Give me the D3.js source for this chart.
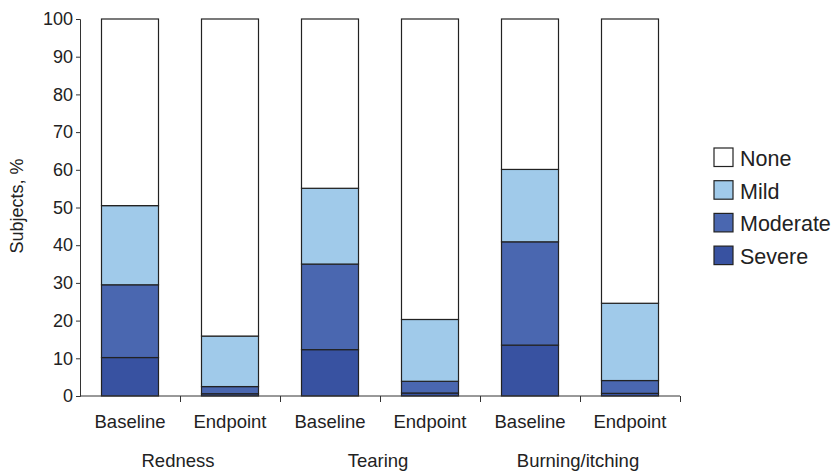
<!DOCTYPE html>
<html><head><meta charset="utf-8">
<script src="https://cdn.jsdelivr.net/npm/d3@7"></script>
<style>body{margin:0;background:#fff}svg{display:block;font-family:"Liberation Sans",Arial,sans-serif}</style>
</head><body><svg id="c" width="831" height="471"></svg>
<script>
const categories = ["Baseline","Endpoint","Baseline","Endpoint","Baseline","Endpoint"];
const groups = ["Redness","Tearing","Burning/itching"];
const severe   = [10.2, 0.6, 12.3, 0.8, 13.5, 0.7];
const moderate = [19.3, 1.9, 22.7, 3.1, 27.4, 3.4];
const mild     = [21.0, 13.4, 20.1, 16.4, 19.2, 20.5];
const none     = severe.map((d,i)=>100 - d - moderate[i] - mild[i]);
const seriesNames = ["Severe","Moderate","Mild","None"];
const seriesColors = ["#3852a1","#4a67b0","#a0caea","#ffffff"];
const yTicks = [0,10,20,30,40,50,60,70,80,90,100];

const svg = d3.select("#c");
const m = {l:80, r:151, t:19, b:75};
const W = 831 - m.l - m.r, H = 471 - m.t - m.b;
const g = svg.append("g").attr("transform",`translate(${m.l},${m.t})`);
const idx = categories.map((_,i)=>i);
const x = d3.scaleBand().domain(idx).range([0,W]).paddingInner(0.43).paddingOuter(0.215);
const y = d3.scaleLinear().domain([0,100]).range([H,0]);

const rows = idx.map(i=>({i, Severe:severe[i], Moderate:moderate[i], Mild:mild[i], None:none[i]}));
const stack = d3.stack().keys(seriesNames)(rows);
stack.forEach((s,k)=>{
  g.append("g").selectAll("rect").data(s).join("rect")
    .attr("x",d=>x(d.data.i)).attr("width",x.bandwidth())
    .attr("y",d=>y(d[1])).attr("height",d=>y(d[0])-y(d[1]))
    .attr("fill",seriesColors[k]).attr("stroke","#222").attr("stroke-width",1.2);
});

// y axis
const ya = g.append("g").call(d3.axisLeft(y).tickValues(yTicks).tickSize(4).tickPadding(3));
ya.select(".domain").attr("stroke","#333");
ya.selectAll("line").attr("stroke","#333");
ya.selectAll("text").attr("font-size",18).attr("fill","#222").attr("font-family","Liberation Sans, Arial, sans-serif");

// x axis
const xb = d3.scaleLinear().domain([0,6]).range([0,W]);
const xa = g.append("g").attr("transform",`translate(0,${H})`)
  .call(d3.axisBottom(xb).tickValues([1,2,3,4,5,6]).tickSize(6).tickFormat(""));
xa.select(".domain").attr("stroke","#333").attr("d",`M0,0H${W}`);
xa.selectAll("line").attr("stroke","#333");

g.append("g").selectAll("text").data(idx).join("text")
  .attr("x",i=>x(i)+x.bandwidth()/2).attr("y",H+32)
  .attr("text-anchor","middle").attr("font-size",18.5).attr("fill","#222")
  .text(i=>categories[i]);
g.append("g").selectAll("text").data(groups).join("text")
  .attr("x",(d,j)=>xb(2*j+1)-2).attr("y",H+71)
  .attr("text-anchor","middle").attr("font-size",18.5).attr("fill","#222")
  .text(d=>d);

svg.append("text").attr("transform","translate(23,206) rotate(-90)")
  .attr("text-anchor","middle").attr("font-size",18).attr("fill","#222").text("Subjects, %");

// legend
const legOrder = ["None","Mild","Moderate","Severe"];
const lg = svg.append("g").attr("transform","translate(714,148)");
legOrder.forEach((n,j)=>{
  const k = seriesNames.indexOf(n);
  lg.append("rect").attr("x",0).attr("y",j*32.7).attr("width",19).attr("height",18.5)
    .attr("fill",seriesColors[k]).attr("stroke","#222").attr("stroke-width",1.2);
  lg.append("text").attr("x",26).attr("y",j*32.7+18).attr("font-size",21.5).attr("fill","#222").text(n);
});
</script></body></html>
